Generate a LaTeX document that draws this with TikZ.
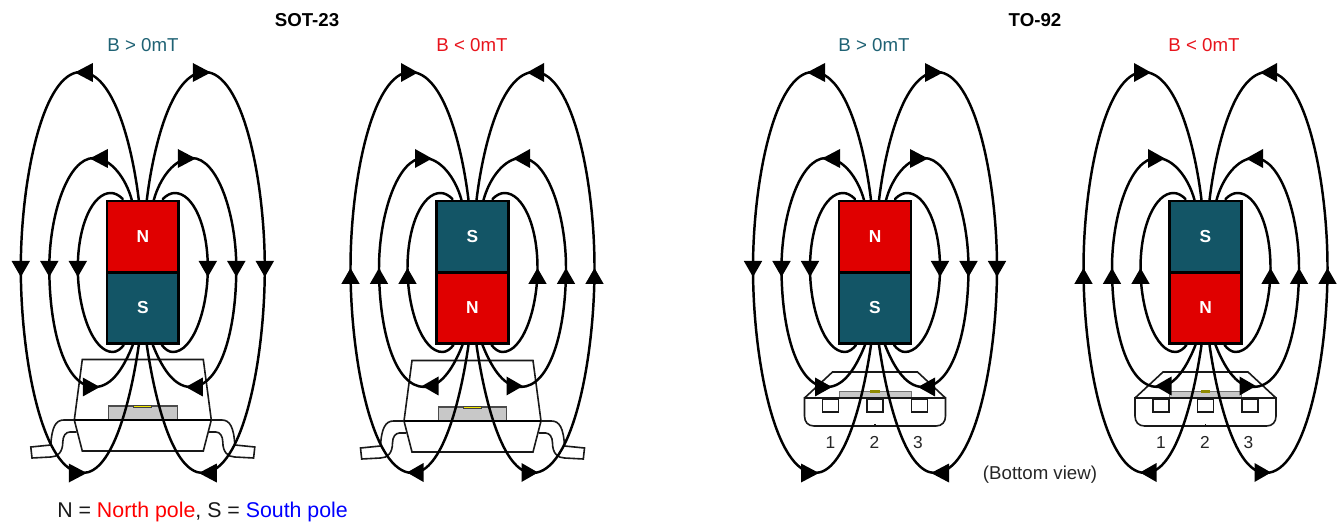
\documentclass[tikz,border=0pt]{standalone}
\usepackage{fontspec}
\setmainfont{Liberation Sans}
\definecolor{magred}{HTML}{E00000}
\definecolor{magteal}{HTML}{135566}
\definecolor{labteal}{HTML}{1F6274}
\definecolor{labred}{HTML}{E8141C}
\definecolor{diegray}{HTML}{C8C8C8}
\definecolor{hall}{HTML}{F2E600}
\definecolor{hallsmall}{HTML}{8F8A00}
\tikzset{
  fieldline/.style={line width=1.85pt,line cap=round},
  fieldarrow/.style={fill=black,draw=none},
  magnetbox/.style={draw=black,line width=1.9pt,minimum width=53.7pt,minimum height=53.6pt,inner sep=0pt,outer sep=0pt,text=white,font=\fontsize{13}{15}\selectfont\bfseries},
  pkgline/.style={line width=1.2pt,draw=black!90},
  pkgheavy/.style={line width=1.6pt,draw=black},
  diebox/.style={fill=diegray,draw=black!70,line width=.8pt},
  hallbox/.style={fill=hall,draw=black!75,line width=.7pt},
  label/.style={font=\fontsize{14}{16}\selectfont,inner sep=0pt},
  legend/.style={font=\fontsize{16}{18}\selectfont,inner sep=0pt},
  title/.style={font=\fontsize{14}{16}\selectfont\bfseries,inner sep=0pt},
  pinlabel/.style={font=\fontsize{13}{15}\selectfont,inner sep=0pt,text=black!85},
}
% horizontal and vertical arrowheads
\newcommand\harrow[3]{\fill[fieldarrow] (#1,#3) -- (#2,#3-9.5) -- (#2,#3+9.5) -- cycle;}
\newcommand\varrow[3]{\fill[fieldarrow] (#1,#2) -- (#1-9.2,#3) -- (#1+9.2,#3) -- cycle;}
% one half of the field (left half; mirrored for the right)
\newcommand\fieldhalf[1]{%
  \draw[fieldline] (-4,200) .. controls (-10,150) and (-28,72) .. (-62,72)
     .. controls (-100,72) and (-122,180) .. (-122,268)
     .. controls (-122,360) and (-100,473) .. (-60,473)
     .. controls (-30,473) and (-12,400) .. (-4,345);
  \draw[fieldline] (-11,200) .. controls (-17,178) and (-32,158) .. (-49,158)
     .. controls (-75,158) and (-93.5,215) .. (-93.5,268)
     .. controls (-93.5,330) and (-78,387) .. (-48,387)
     .. controls (-30,387) and (-18,365) .. (-10,345);
  \draw[fieldline] (-20,199) .. controls (-24,195) and (-28,193) .. (-32,193)
     .. controls (-50,193) and (-65,225) .. (-65,268)
     .. controls (-65,310) and (-50,352) .. (-30,352)
     .. controls (-26,352) and (-22,349) .. (-19,345);
  \ifnum#1=1
    \harrow{-68}{-50}{72.5}\harrow{-53}{-35}{158.5}
    \varrow{-65}{277}{261}\varrow{-93.5}{277}{261}\varrow{-122}{277}{261}
    \harrow{-43}{-60}{387}\harrow{-56}{-74}{473}
  \else
    \harrow{-54.5}{-71.5}{72.5}\harrow{-40.5}{-57.5}{158.5}
    \varrow{-65}{268}{284}\varrow{-93.5}{268}{284}\varrow{-122}{268}{284}
    \harrow{-50.5}{-34}{386}\harrow{-65.5}{-49}{472.5}
  \fi
}
% magnet column: id, centre x, case (1: N on top, 2: S on top)
\newcommand\magnetcol[3]{%
  \begin{scope}[shift={(#2,0)}]
    \fieldhalf{#3}
    \begin{scope}[xscale=-1]\fieldhalf{#3}\end{scope}
    \ifnum#3=1
      \node[magnetbox,fill=magred] (#1top) at (0,236.6) {N};
      \node[magnetbox,fill=magteal] (#1bot) at (0,308) {S};
    \else
      \node[magnetbox,fill=magteal] (#1top) at (0,236.6) {S};
      \node[magnetbox,fill=magred] (#1bot) at (0,308) {N};
    \fi
  \end{scope}
}
\newcommand\sotlead{%
  \draw[pkgline] (-68.5,420) -- (-79,420) .. controls (-87,420) and (-91,427) .. (-92,445)
    -- (-112,447) -- (-110.8,458) -- (-92,457) .. controls (-85,457) and (-80,452) .. (-80,442)
    .. controls (-80,436) and (-77,432) .. (-73,432) -- (-66.3,432);
}
% SOT-23 package: centre x, y shift
\newcommand\sotpkg[2]{%
  \begin{scope}[shift={(#1,#2)}]
    \draw[pkgline] (-60.5,359.5) -- (60.5,359.5) -- (68.5,420) -- (60.5,451) -- (-60.5,451) -- (-68.5,420) -- cycle;
    \path[diebox] (-34.3,406) rectangle (34.3,420);
    \path[hallbox] (-9,405) rectangle (9,407.2);
    \draw[pkgheavy] (-68.5,420) -- (68.5,420);
    \sotlead
    \begin{scope}[xscale=-1]\sotlead\end{scope}
  \end{scope}
}
% TO-92 package: centre x
\newcommand\topkg[1]{%
  \begin{scope}[shift={(#1,0)}]
    \draw[pkgline] (-70.5,398) -- (-42.5,372) -- (42.5,372) -- (70.5,398);
    \path[fill=diegray,draw=black!55,line width=.7pt] (-36,391) rectangle (36,398);
    \fill[hallsmall] (-4.8,390) rectangle (4.8,393);
    \draw[pkgline] (-70.5,398) -- (70.5,398) -- (70.5,416) .. controls (70.5,422) and (67,426) .. (61,426) -- (-61,426) .. controls (-67,426) and (-70.5,422) .. (-70.5,416) -- cycle;
    \draw[pkgline] (0,424) -- (0,426);
    \draw[pkgline] (-52.5,399) rectangle (-36.5,412);
    \draw[pkgline] (-8,399) rectangle (8,412);
    \draw[pkgline] (36.5,399) rectangle (52.5,412);
    \node[pinlabel] at (-44.5,442.5) {1};
    \node[pinlabel] at (-0.5,442.5) {2};
    \node[pinlabel] at (43,442.5) {3};
  \end{scope}
}
\begin{document}
\begin{tikzpicture}[x=0.75pt,y=-0.75pt]
  \useasboundingbox (0,0) rectangle (1337,523);
  \fill[white] (0,0) rectangle (1337,523);
  \sotpkg{142.8}{0}
  \sotpkg{472.5}{1}
  \topkg{875}
  \topkg{1205.5}
  \magnetcol{a}{142.8}{1}
  \magnetcol{b}{472.5}{2}
  \magnetcol{c}{875}{1}
  \magnetcol{d}{1205.5}{2}
  \node[title] (t1) at (307,20) {SOT-23};
  \node[title] (t2) at (1035,20) {TO-92};
  \node[label,text=labteal] (l1) at (143,45) {B > 0mT};
  \node[label,text=labred] (l2) at (472,45) {B < 0mT};
  \node[label,text=labteal] (l3) at (874,45) {B > 0mT};
  \node[label,text=labred] (l4) at (1204,45) {B < 0mT};
  \node[label,text=black!85] (bv) at (1040,475) {(Bottom view)};
  \node[legend,anchor=west,text=black!90] (leg) at (57,512) {N = \textcolor{red}{North pole}, S = \textcolor{blue}{South pole}};
\end{tikzpicture}
\end{document}
